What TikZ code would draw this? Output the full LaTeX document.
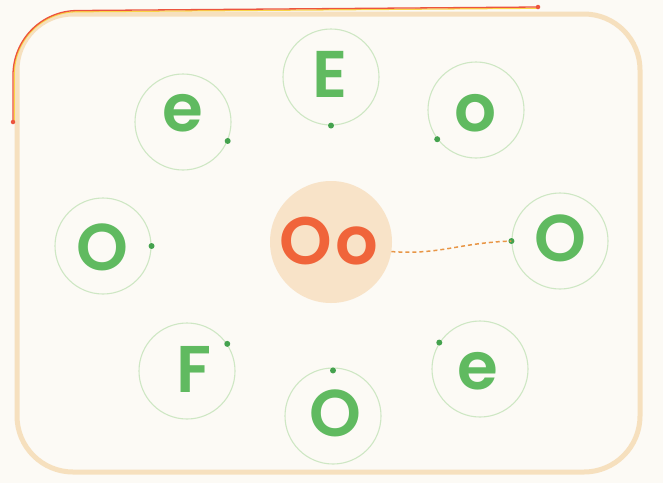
\documentclass[tikz,border=0pt]{standalone}
\usepackage{fontspec}
\newfontfamily\popfont{Poppins SemiBold}
\definecolor{bgc}{RGB}{252,250,245}
\definecolor{framec}{RGB}{246,224,190}
\definecolor{redc}{RGB}{236,84,62}
\definecolor{yelc}{RGB}{250,212,70}
\definecolor{ringc}{RGB}{206,231,196}
\definecolor{dotc}{RGB}{68,162,78}
\definecolor{letc}{RGB}{96,186,96}
\definecolor{centc}{RGB}{248,227,200}
\definecolor{orc}{RGB}{240,100,58}
\definecolor{dashc}{RGB}{232,150,70}
\begin{document}
\begin{tikzpicture}[x=1pt,y=-1pt,
  ring/.style={circle, draw=ringc, line width=1.1pt, minimum size=96pt, inner sep=0pt},
  gdot/.style={circle, fill=dotc, minimum size=6pt, inner sep=0pt},
  rdot/.style={circle, fill=redc, minimum size=4.5pt, inner sep=0pt},
  glet/.style={text=letc, font=\popfont\fontsize{66pt}{66pt}\selectfont, anchor=base, inner sep=0pt},
  olet/.style={text=orc, font=\popfont\fontsize{67pt}{67pt}\selectfont, anchor=base, inner sep=0pt},
  framebox/.style={draw=framec, line width=5pt, rounded corners=56pt},
  redline/.style={draw=redc, line width=1.3pt, rounded corners=64pt},
  yelline/.style={draw=yelc, line width=1.3pt, rounded corners=62pt},
  dashline/.style={draw=dashc, line width=1.5pt, dash pattern=on 4pt off 3pt}
]
\useasboundingbox (0,0) rectangle (663,483);
\fill[bgc] (0,0) rectangle (663,483);
% frame
\draw[framebox] (17,14) rectangle (640,472);
\coordinate (ra) at (13,122);
\coordinate (rc) at (13,11);
\coordinate (rb) at (538,7);
\draw[yelline] ([xshift=1.2pt,yshift=-1.2pt]ra) -- ([xshift=1.2pt,yshift=-1.2pt]rc) -- ([xshift=1.2pt,yshift=-1.2pt]rb);
\draw[redline] (ra) -- (rc) -- (rb);
\node[rdot] (rda) at (ra) {};
\node[rdot] (rdb) at (rb) {};

% centre
\node[circle, fill=centc, minimum size=122pt, inner sep=0pt] (cc) at (331,242) {};
\node[olet] (oo) at (329,264) {O\kern3pt o};

% rings
\node[ring] (cE) at (331,77) {};
\node[ring] (co) at (476,110) {};
\node[ring] (ce) at (183,122) {};
\node[ring] (cOl) at (103,246) {};
\node[ring] (cOr) at (560,241) {};
\node[ring] (cF) at (187,371) {};
\node[ring] (cOb) at (333,416) {};
\node[ring] (ce2) at (480,369) {};

% letters
\node[glet] (tE) at (330,97) {E};
\node[glet] (to) at (476,131) {o};
\node[glet] (te) at (183,131) {e};
\node[glet] (tOl) at (102,270) {O};
\node[glet] (tOr) at (560,261) {O};
\node[glet] (tF) at (194,392) {F};
\node[glet] (tOb) at (335,436) {O};
\node[glet] (te2) at (478,389) {e};

% dots
\node[gdot] (dE) at (cE.-90) {};
\node[gdot] (do) at (co.217) {};
\node[gdot] (de) at (ce.-23) {};
\node[gdot] (dOl) at (cOl.0) {};
\node[gdot] (dOr) at (cOr.180) {};
\node[gdot] (dF) at (cF.34) {};
\node[gdot] (dOb) at ([yshift=-3pt]cOb.90) {};
\node[gdot] (de2) at (ce2.147) {};

% dashed link
\draw[dashline] (cc.-9) .. controls (440,255) and (458,243) .. (dOr.center);
\end{tikzpicture}
\end{document}
